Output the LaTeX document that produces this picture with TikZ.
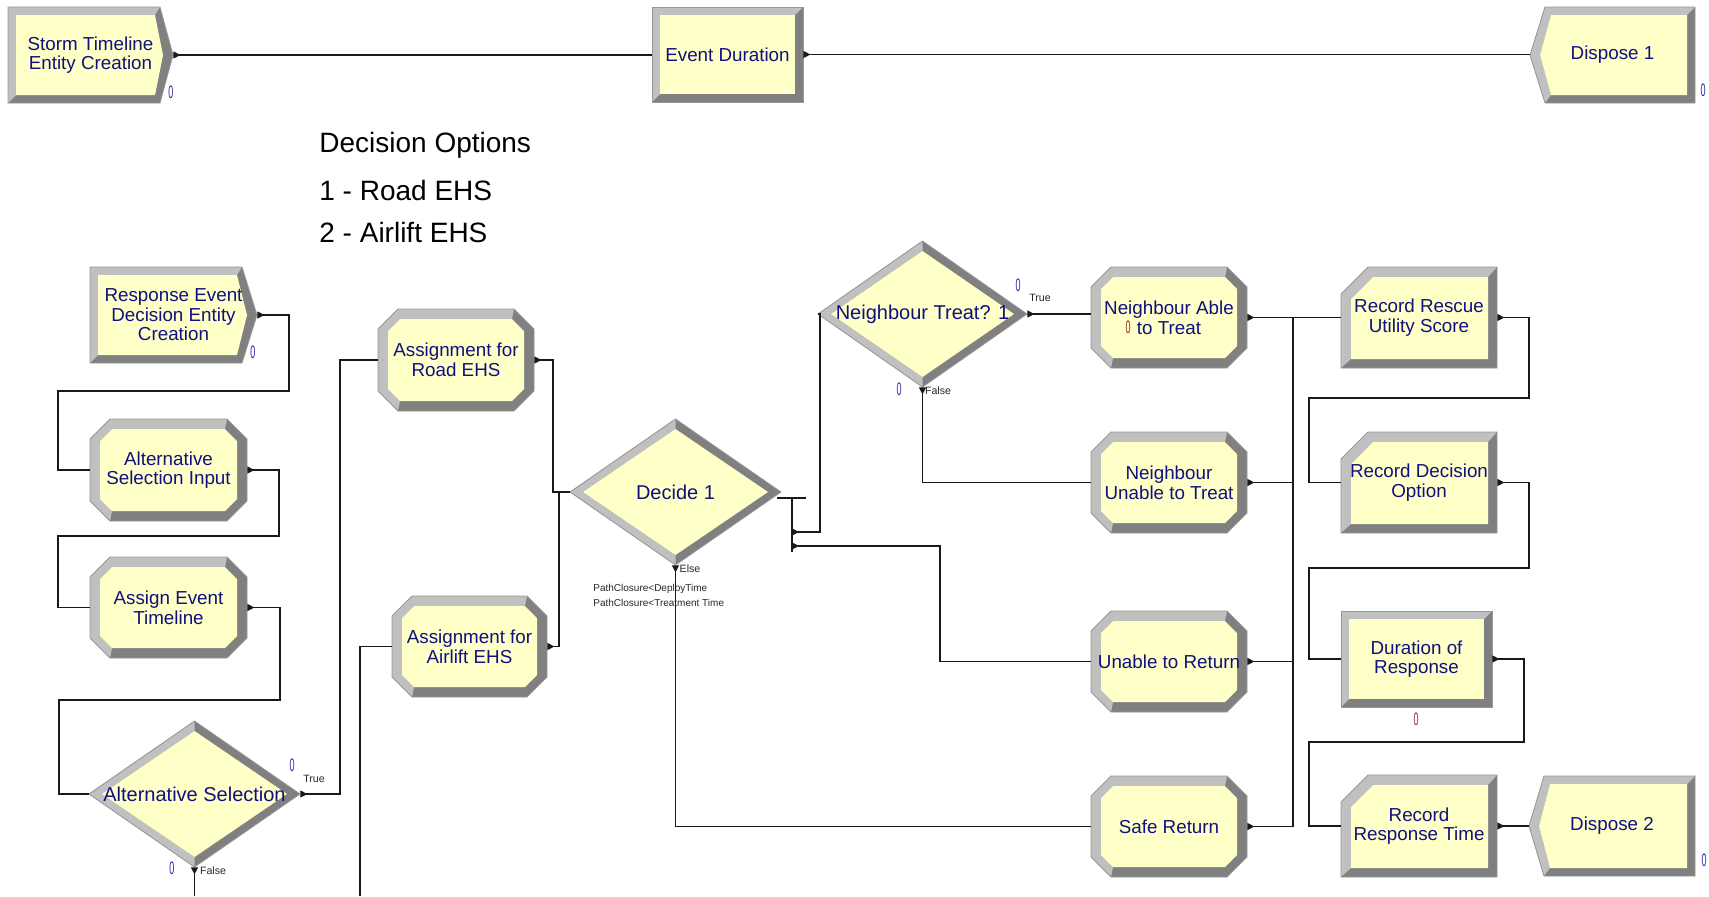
\documentclass[tikz,border=0pt]{standalone}
\usepackage{fontspec}
\setmainfont{Liberation Sans}
\usetikzlibrary{arrows.meta}
\definecolor{bvlite}{RGB}{192,192,192}
\definecolor{bvdark}{RGB}{128,128,128}
\definecolor{bvline}{RGB}{150,150,150}
\definecolor{modfill}{RGB}{255,255,200}
\definecolor{modtext}{RGB}{16,16,128}
\definecolor{cntblue}{RGB}{40,40,170}
\definecolor{cntred}{RGB}{170,30,30}
\newcommand\zro{\scalebox{0.5}[1]{0}}
% plain rectangle module
\newcommand\ShProc[4]{%
  \fill[bvdark] (#1,#2) rectangle (#3,#4);
  \fill[bvlite] (#1,#4) -- (#1,#2) -- (#3,#2) -- ({#3-8},{#2+8}) -- ({#1+8},{#2+8}) -- ({#1+8},{#4-8}) -- cycle;
  \fill[modfill] ({#1+8},{#2+8}) rectangle ({#3-8},{#4-8});
  \draw[bvline,line width=0.4pt] (#1,#2) rectangle (#3,#4);}
% octagon module
\newcommand\ShAsg[4]{%
  \fill[bvdark] ({#1+20},#2) -- ({#3-20},#2) -- (#3,{#2+20}) -- (#3,{#4-20}) -- ({#3-20},#4) -- ({#1+20},#4) -- (#1,{#4-20}) -- (#1,{#2+20}) -- cycle;
  \fill[bvlite] ({#1+20},#4) -- (#1,{#4-20}) -- (#1,{#2+20}) -- ({#1+20},#2) -- ({#3-20},#2) -- ({#3-22},{#2+10}) -- ({#1+22},{#2+10}) -- ({#1+10},{#2+22}) -- ({#1+10},{#4-22}) -- ({#1+22},{#4-10}) -- cycle;
  \fill[modfill] ({#1+22},{#2+10}) -- ({#3-22},{#2+10}) -- ({#3-10},{#2+22}) -- ({#3-10},{#4-22}) -- ({#3-22},{#4-10}) -- ({#1+22},{#4-10}) -- ({#1+10},{#4-22}) -- ({#1+10},{#2+22}) -- cycle;
  \draw[bvline,line width=0.4pt] ({#1+20},#2) -- ({#3-20},#2) -- (#3,{#2+20}) -- (#3,{#4-20}) -- ({#3-20},#4) -- ({#1+20},#4) -- (#1,{#4-20}) -- (#1,{#2+20}) -- cycle;}
% create module (chevron right)
\newcommand\ShCre[5]{%
  \fill[bvdark] (#1,#2) -- (#3,#2) -- (#4,{(#2+#5)/2}) -- (#3,#5) -- (#1,#5) -- cycle;
  \fill[bvlite] (#1,#5) -- (#1,#2) -- (#3,#2) -- ({#3-5},{#2+8}) -- ({#1+8},{#2+8}) -- ({#1+8},{#5-8}) -- cycle;
  \fill[modfill] ({#1+8},{#2+8}) -- ({#3-5},{#2+8}) -- ({#4-10},{(#2+#5)/2}) -- ({#3-5},{#5-8}) -- ({#1+8},{#5-8}) -- cycle;
  \draw[bvline,line width=0.4pt] (#1,#2) -- (#3,#2) -- (#4,{(#2+#5)/2}) -- (#3,#5) -- (#1,#5) -- cycle;}
% dispose module (notch left)
\newcommand\ShDis[5]{%
  \fill[bvdark] (#1,{(#4+#5)/2}) -- (#2,#4) -- (#3,#4) -- (#3,#5) -- (#2,#5) -- cycle;
  \fill[bvlite] (#2,#5) -- (#1,{(#4+#5)/2}) -- (#2,#4) -- (#3,#4) -- ({#3-8},{#4+8}) -- ({#2+6},{#4+8}) -- ({#1+10},{(#4+#5)/2}) -- ({#2+6},{#5-8}) -- cycle;
  \fill[modfill] ({#1+10},{(#4+#5)/2}) -- ({#2+6},{#4+8}) -- ({#3-8},{#4+8}) -- ({#3-8},{#5-8}) -- ({#2+6},{#5-8}) -- cycle;
  \draw[bvline,line width=0.4pt] (#1,{(#4+#5)/2}) -- (#2,#4) -- (#3,#4) -- (#3,#5) -- (#2,#5) -- cycle;}
% record module (cut top-left)
\newcommand\ShRec[4]{%
  \fill[bvdark] (#1,{#2+27}) -- ({#1+27},#2) -- (#3,#2) -- (#3,#4) -- (#1,#4) -- cycle;
  \fill[bvlite] (#1,#4) -- (#1,{#2+27}) -- ({#1+27},#2) -- (#3,#2) -- ({#3-9},{#2+10}) -- ({#1+32},{#2+10}) -- ({#1+10},{#2+32}) -- ({#1+10},{#4-9}) -- cycle;
  \fill[modfill] ({#1+10},{#2+32}) -- ({#1+32},{#2+10}) -- ({#3-9},{#2+10}) -- ({#3-9},{#4-9}) -- ({#1+10},{#4-9}) -- cycle;
  \draw[bvline,line width=0.4pt] (#1,{#2+27}) -- ({#1+27},#2) -- (#3,#2) -- (#3,#4) -- (#1,#4) -- cycle;}
% decide module (diamond)
\newcommand\ShDec[4]{%
  \fill[bvdark] (#1,{(#2+#4)/2}) -- ({(#1+#3)/2},#2) -- (#3,{(#2+#4)/2}) -- ({(#1+#3)/2},#4) -- cycle;
  \fill[bvlite] (#1,{(#2+#4)/2}) -- ({(#1+#3)/2},#2) -- ({(#1+#3)/2},{#2+10}) -- ({#1+13},{(#2+#4)/2}) -- ({(#1+#3)/2},{#4-10}) -- ({(#1+#3)/2},#4) -- cycle;
  \fill[modfill] ({#1+13},{(#2+#4)/2}) -- ({(#1+#3)/2},{#2+10}) -- ({#3-13},{(#2+#4)/2}) -- ({(#1+#3)/2},{#4-10}) -- cycle;
  \draw[bvline,line width=0.4pt] (#1,{(#2+#4)/2}) -- ({(#1+#3)/2},#2) -- (#3,{(#2+#4)/2}) -- ({(#1+#3)/2},#4) -- cycle;}
\newcommand\ModNode[7][]{\node[modtxt,#1,minimum width={(#5-#3)*0.5pt},minimum height={(#6-#4)*0.5pt}] (#2) at ({(#3+#5)/2},{(#4+#6)/2}) {#7};}
\begin{document}
\begin{tikzpicture}[x=0.5pt,y=-0.5pt,
  modtxt/.style={inner sep=0pt,align=center,text=modtext,font=\fontsize{9.4}{9.8}\selectfont},
  dectxt/.style={font=\fontsize{10}{10}\selectfont},
  cntb/.style={inner sep=0pt,text=cntblue,font=\fontsize{9}{9}\selectfont},
  cntr/.style={cntb,text=cntred},
  lbl/.style={inner sep=0pt,text=black!85,font=\fontsize{5.3}{6}\selectfont},
  cond/.style={inner sep=0pt,anchor=west,text=black!85,font=\fontsize{5}{6}\selectfont},
  conn/.style={draw=black!90,line width=0.55pt,{Triangle[reversed,length=3.5pt,width=3.5pt]}-},
  plain/.style={draw=black!90,line width=0.55pt},
  note/.style={inner sep=0pt,anchor=west,font=\fontsize{14}{14}\selectfont}]
\useasboundingbox (0,0) rectangle (1709,896);

% ---------- modules ----------
\ShCre{8}{7}{160}{173}{103}
\ModNode{storm}{8}{7}{173}{103}{Storm Timeline\\Entity Creation}
\ShProc{652}{7}{803}{102}
\ModNode{evdur}{652}{7}{803}{102}{Event Duration}
\ShDis{1530}{1545}{1695}{7}{103}
\ModNode{disp1}{1530}{7}{1695}{103}{Dispose 1}

\ShCre{90}{267}{242}{257}{363}
\ModNode{respev}{90}{267}{257}{363}{Response Event\\Decision Entity\\Creation}
\ShAsg{90}{419}{247}{521}
\ModNode{altin}{90}{419}{247}{521}{Alternative\\Selection Input}
\ShAsg{90}{557}{247}{658}
\ModNode{asgev}{90}{557}{247}{658}{Assign Event\\Timeline}
\ShDec{89}{721}{300}{867}
\ModNode[dectxt]{altsel}{89}{721}{300}{867}{Alternative Selection}

\ShAsg{378}{309}{534}{411}
\ModNode{road}{378}{309}{534}{411}{Assignment for\\Road EHS}
\ShAsg{392}{596}{547}{697}
\ModNode{air}{392}{596}{547}{697}{Assignment for\\Airlift EHS}
\ShDec{570}{419}{781}{565}
\ModNode[dectxt]{dec1}{570}{419}{781}{565}{Decide 1}
\ShDec{818}{241}{1027}{387}
\ModNode[dectxt]{nt}{818}{241}{1027}{387}{Neighbour Treat? 1}

\ShAsg{1091}{267}{1247}{368}
\ModNode{nable}{1091}{267}{1247}{368}{Neighbour Able\\to Treat}
\ShAsg{1091}{432}{1247}{533}
\ModNode{nunable}{1091}{432}{1247}{533}{Neighbour\\Unable to Treat}
\ShAsg{1091}{611}{1247}{712}
\ModNode{unret}{1091}{611}{1247}{712}{Unable to Return}
\ShAsg{1091}{776}{1247}{877}
\ModNode{safe}{1091}{776}{1247}{877}{Safe Return}

\ShRec{1341}{267}{1497}{368}
\ModNode{rescue}{1341}{267}{1497}{368}{Record Rescue\\Utility Score}
\ShRec{1341}{432}{1497}{533}
\ModNode{recdec}{1341}{432}{1497}{533}{Record Decision\\Option}
\ShProc{1341}{611}{1492}{707}
\ModNode{durresp}{1341}{611}{1492}{707}{Duration of\\Response}
\ShRec{1341}{775}{1497}{877}
\ModNode{recresp}{1341}{775}{1497}{877}{Record\\Response Time}
\ShDis{1529}{1544}{1695}{776}{876}
\ModNode{disp2}{1529}{776}{1695}{876}{Dispose 2}

% ---------- counters ----------
\node[cntb] (k1) at (171,92) {\zro};
\node[cntb] (k2) at (1703,90) {\zro};
\node[cntb] (k3) at (253,352) {\zro};
\node[cntb] (k4) at (292,765) {\zro};
\node[cntb] (k5) at (172,868) {\zro};
\node[cntb] (k6) at (1018,285) {\zro};
\node[cntb] (k7) at (899,389) {\zro};
\node[cntr] (k8) at (1128,327) {\zro};
\node[cntr] (k9) at (1416,719) {\zro};
\node[cntb] (k10) at (1704,860) {\zro};

% ---------- branch labels ----------
\node[lbl] (t1) at (314,779) {True};
\node[lbl] (f1) at (213,871) {False};
\node[lbl] (t2) at (1040,298) {True};
\node[lbl] (f2) at (938,391) {False};
\node[lbl] (e1) at (690,569) {Else};
\node[cond] (p1) at (593,589) {PathClosure<DeployTime};
\node[cond] (p2) at (593,603) {PathClosure<Treatment Time};

% ---------- note ----------
\node[note] (n1) at (319,145) {Decision Options};
\node[note] (n2) at (319,190) {1 - Road EHS};
\node[note] (n3) at (319,232) {2 - Airlift EHS};

% ---------- coordinates ----------
\coordinate (d1a) at (792,532);
\coordinate (d1b) at (792,546);
\coordinate (bus) at (1293,317.5);
\coordinate (offA) at (194.5,896);
\coordinate (offB) at (360,896);

% ---------- connectors ----------
\draw[conn] (storm.east) -- (storm.east -| evdur.west);
\draw[conn] (evdur.east) -- (evdur.east -| disp1.west);
\draw[conn] (respev.east) -| (289,391) -| (58,470) -- (altin.west);
\draw[conn] (altin.east) -| (279,536) -| (58,607.5) -- (asgev.west);
\draw[conn] (asgev.east) -| (280,700) -| (59,794) -- (altsel.west);
\draw[conn] (altsel.east) -- (340,794) |- (road.west);
\draw[conn] (altsel.south) -- (offA);
\draw[plain] (offB) |- (air.west);
\draw[conn] (road.east) -- (553,360) |- (dec1.west);
\draw[conn] (air.east) -- (559,646.5) |- (dec1.west);
\draw[plain] (777,498) -- (806,498);
\draw[plain] (792,498) -- (792,552);
\draw[conn] (d1a) -- (820,532) |- (nt.west);
\draw[conn] (d1b) -- (940,546) |- (unret.west);
\draw[conn] (dec1.south) |- (safe.west);
\draw[conn] (nt.east) -- (nt.east -| nable.west);
\draw[conn] (nt.south) |- (nunable.west);
\draw[conn] (nable.east) -- (rescue.west);
\draw[conn] (nunable.east) -| (bus) -- (rescue.west);
\draw[conn] (unret.east) -| (bus) -- (rescue.west);
\draw[conn] (safe.east) -| (bus) -- (rescue.west);
\draw[conn] (rescue.east) -| (1529,398) -| (1309,482.5) -- (recdec.west);
\draw[conn] (recdec.east) -| (1529,568) -| (1309,659) -- (durresp.west);
\draw[conn] (durresp.east) -| (1524,742) -| (1309,826) -- (recresp.west);
\draw[conn] (recresp.east) -- (recresp.east -| disp2.west);
\end{tikzpicture}
\end{document}
